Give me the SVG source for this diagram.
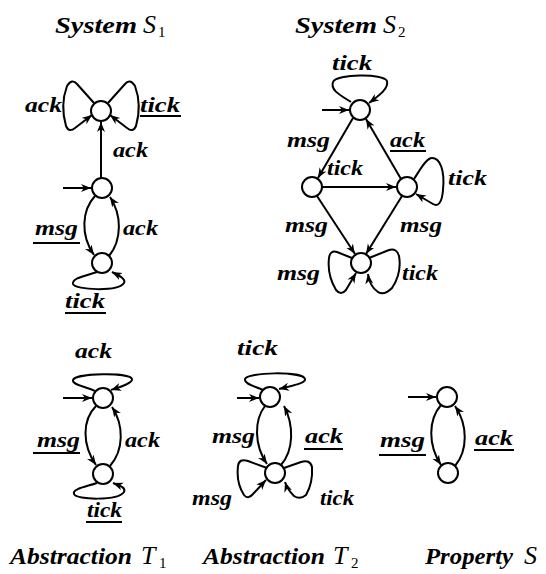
<svg xmlns="http://www.w3.org/2000/svg" width="546" height="574" viewBox="0 0 546 574">
<defs>
<style>
.n{fill:#fff;stroke:#000;stroke-width:2}
.e{fill:none;stroke:#000;stroke-width:2;marker-end:url(#ah)}
.u{stroke:#000;stroke-width:2}
text{font-family:"Liberation Serif","Times New Roman",serif;font-weight:bold;font-style:italic;font-size:22px;fill:#000}
.t{font-size:24px}
.cal{font-weight:normal;font-size:26px}
.sub{font-style:normal;font-weight:normal;font-size:15px}
</style>
<marker id="ah" markerWidth="12" markerHeight="10" refX="10" refY="4" orient="auto" markerUnits="userSpaceOnUse"><path d="M0,0 L10,4 L0,8 L3,4 Z" fill="#000"/></marker>
</defs>
<rect width="546" height="574" fill="#fff"/>

<!-- Titles -->
<g id="title-s1"><text class="t" x="55" y="33" textLength="82" lengthAdjust="spacingAndGlyphs">System</text><text class="cal" x="143" y="33">S</text><text class="sub" x="158" y="37">1</text></g>
<g id="title-s2"><text class="t" x="295" y="33" textLength="82" lengthAdjust="spacingAndGlyphs">System</text><text class="cal" x="383" y="33">S</text><text class="sub" x="398" y="37">2</text></g>
<g id="title-t1"><text class="t" x="10" y="564" textLength="122" lengthAdjust="spacingAndGlyphs">Abstraction</text><text class="cal" x="141" y="564">T</text><text class="sub" x="159" y="568">1</text></g>
<g id="title-t2"><text class="t" x="203" y="564" textLength="122" lengthAdjust="spacingAndGlyphs">Abstraction</text><text class="cal" x="333" y="564">T</text><text class="sub" x="351" y="568">2</text></g>
<g id="title-p"><text class="t" x="425" y="564" textLength="88" lengthAdjust="spacingAndGlyphs">Property</text><text class="cal" x="524" y="564">S</text></g>

<!-- Connectors -->
<g id="connectors">
<!-- S1 -->
<path class="e" d="M94,103 L77,84 Q72,78 67,86 Q60,105 66,126 Q69,133 75,128 L92,115"/>
<path class="e" d="M108,103 L125,84 Q130,78 135,86 Q142,105 136,126 Q133,133 127,128 L110,115"/>
<path class="e" d="M101,178 L101,122"/>
<path class="e" d="M63,188 L91,188"/>
<path class="e" d="M95,196 C82,210 80,235 94,255"/>
<path class="e" d="M109,256 C122,240 122,215 110,197"/>
<path class="e" d="M97,272 C85,276 72,278 73,284 C75,290 118,292 124,283 C126,279 120,276 112,272"/>
<!-- S2 -->
<path class="e" d="M351,102 C340,95 330,90 333,82 C336,74 384,73 387,81 C389,88 380,95 369,103"/>
<path class="e" d="M322,110 L349,110"/>
<path class="e" d="M353,118 L318,178"/>
<path class="e" d="M401,179 L366,119"/>
<path class="e" d="M322,187 L396,187"/>
<path class="e" d="M414,179 C420,170 426,158 432,158 C440,158 445,170 443,190 C442,203 438,207 433,204 L416,194"/>
<path class="e" d="M317,196 L355,254"/>
<path class="e" d="M402,196 L366,254"/>
<path class="e" d="M352,258 L337,252 Q330,250 329,258 Q327,275 336,290 Q341,296 346,290 L356,273"/>
<path class="e" d="M369,258 L389,250 Q397,248 399,256 Q402,273 392,288 Q384,296 378,292 C372,288 369,282 368,274"/>
<!-- T1 -->
<path class="e" d="M95,391 C85,386 72,385 73,380 C75,373 130,372 132,379 C133,383 120,387 111,390"/>
<path class="e" d="M63,398 L92,398"/>
<path class="e" d="M96,406 C82,420 82,445 96,465"/>
<path class="e" d="M110,466 C124,450 124,425 112,407"/>
<path class="e" d="M97,483 C85,487 72,489 74,494 C76,500 118,501 124,492 C126,488 121,486 113,483"/>
<!-- T2 -->
<path class="e" d="M263,390 C254,386 244,384 245,379 C247,372 303,371 305,379 C306,383 292,386 279,389"/>
<path class="e" d="M237,398 L259,398"/>
<path class="e" d="M265,406 C254,420 254,445 267,464"/>
<path class="e" d="M281,465 C294,450 294,425 284,406"/>
<path class="e" d="M267,468 L248,461 Q239,458 238,466 Q236,483 244,495 Q248,500 253,494 L266,480"/>
<path class="e" d="M284,468 L301,462 Q310,459 312,467 Q313,483 306,495 Q300,500 294,496 C290,492 287,488 285,482"/>
<!-- Property -->
<path class="e" d="M408,397 L436,397"/>
<path class="e" d="M441,405 C428,420 428,445 441,465"/>
<path class="e" d="M455,466 C468,450 468,425 455,406"/>
</g>

<!-- Nodes -->
<g id="s1-a"><circle class="n" cx="101" cy="111" r="10"/></g>
<g id="s1-b"><circle class="n" cx="102" cy="188" r="10"/></g>
<g id="s1-c"><circle class="n" cx="102" cy="263" r="10"/></g>
<g id="s2-a"><circle class="n" cx="360" cy="110" r="10"/></g>
<g id="s2-b"><circle class="n" cx="312" cy="187" r="10"/></g>
<g id="s2-c"><circle class="n" cx="407" cy="187" r="10"/></g>
<g id="s2-d"><circle class="n" cx="361" cy="263" r="10"/></g>
<g id="t1-a"><circle class="n" cx="103" cy="398" r="10"/></g>
<g id="t1-b"><circle class="n" cx="103" cy="474" r="10"/></g>
<g id="t2-a"><circle class="n" cx="270" cy="397" r="10"/></g>
<g id="t2-b"><circle class="n" cx="275" cy="473" r="10"/></g>
<g id="p-a"><circle class="n" cx="447" cy="397" r="10"/></g>
<g id="p-b"><circle class="n" cx="448" cy="473" r="10"/></g>

<!-- Labels -->
<g id="labels">
<!-- S1 -->
<text x="25" y="112" textLength="37" lengthAdjust="spacingAndGlyphs">ack</text>
<text x="140" y="112" textLength="40" lengthAdjust="spacingAndGlyphs">tick</text><line class="u" x1="140" y1="116" x2="181" y2="116"/>
<text x="113" y="157" textLength="35" lengthAdjust="spacingAndGlyphs">ack</text>
<text x="35" y="235" textLength="43" lengthAdjust="spacingAndGlyphs">msg</text><line class="u" x1="33" y1="243" x2="80" y2="243"/>
<text x="123" y="235" textLength="35" lengthAdjust="spacingAndGlyphs">ack</text>
<text x="65" y="308" textLength="40" lengthAdjust="spacingAndGlyphs">tick</text><line class="u" x1="65" y1="313" x2="106" y2="313"/>
<!-- S2 -->
<text x="332" y="70" textLength="40" lengthAdjust="spacingAndGlyphs">tick</text>
<text x="287" y="147" textLength="43" lengthAdjust="spacingAndGlyphs">msg</text>
<text x="390" y="147" textLength="35" lengthAdjust="spacingAndGlyphs">ack</text><line class="u" x1="390" y1="151" x2="426" y2="151"/>
<text x="327" y="175" textLength="36" lengthAdjust="spacingAndGlyphs">tick</text>
<text x="448" y="185" textLength="39" lengthAdjust="spacingAndGlyphs">tick</text>
<text x="285" y="232" textLength="43" lengthAdjust="spacingAndGlyphs">msg</text>
<text x="400" y="232" textLength="42" lengthAdjust="spacingAndGlyphs">msg</text>
<text x="277" y="280" textLength="43" lengthAdjust="spacingAndGlyphs">msg</text>
<text x="402" y="280" textLength="36" lengthAdjust="spacingAndGlyphs">tick</text>
<!-- T1 -->
<text x="75" y="358" textLength="37" lengthAdjust="spacingAndGlyphs">ack</text>
<text x="37" y="447" textLength="43" lengthAdjust="spacingAndGlyphs">msg</text><line class="u" x1="33" y1="453" x2="80" y2="453"/>
<text x="125" y="447" textLength="35" lengthAdjust="spacingAndGlyphs">ack</text>
<text x="87" y="517" textLength="35" lengthAdjust="spacingAndGlyphs">tick</text><line class="u" x1="86" y1="522" x2="122" y2="522"/>
<!-- T2 -->
<text x="237" y="355" textLength="41" lengthAdjust="spacingAndGlyphs">tick</text>
<text x="212" y="443" textLength="43" lengthAdjust="spacingAndGlyphs">msg</text>
<text x="305" y="443" textLength="38" lengthAdjust="spacingAndGlyphs">ack</text><line class="u" x1="304" y1="449" x2="343" y2="449"/>
<text x="192" y="505" textLength="40" lengthAdjust="spacingAndGlyphs">msg</text>
<text x="320" y="505" textLength="34" lengthAdjust="spacingAndGlyphs">tick</text>
<!-- Property -->
<text x="380" y="447" textLength="45" lengthAdjust="spacingAndGlyphs">msg</text><line class="u" x1="379" y1="455" x2="426" y2="455"/>
<text x="475" y="445" textLength="38" lengthAdjust="spacingAndGlyphs">ack</text><line class="u" x1="474" y1="450" x2="514" y2="450"/>
</g>
</svg>
